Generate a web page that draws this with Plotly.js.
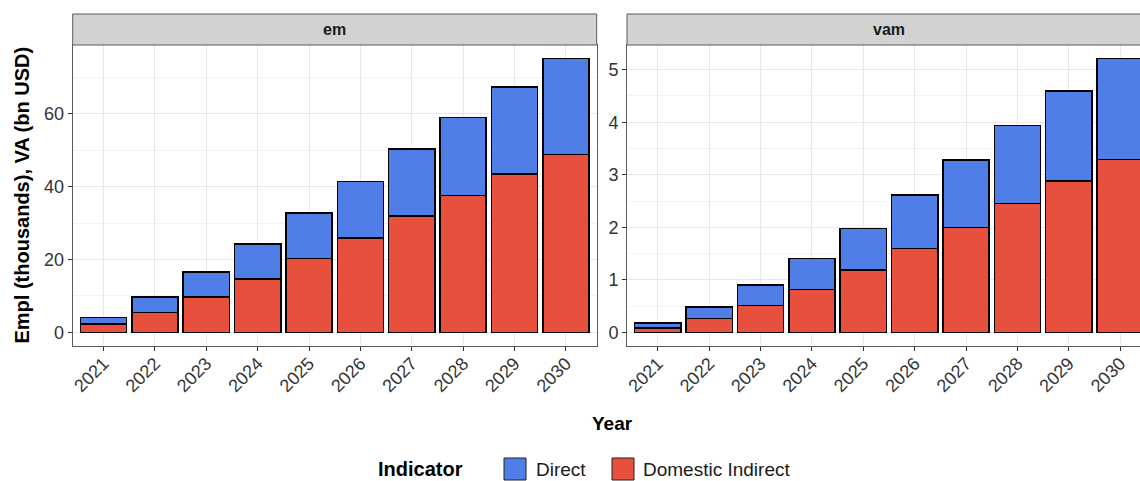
<!DOCTYPE html>
<html>
<head>
<meta charset="utf-8">
<script src="https://cdn.plot.ly/plotly-3.0.1.min.js"></script>
<style>
html, body { margin: 0; padding: 0; background: #ffffff; overflow: hidden; width: 1140px; height: 481px; }
#chart { width: 1160px; height: 481px; }
</style>
</head>
<body>
<div id="chart"></div>
<script>
// ---- data ----
const years = ['2021', '2022', '2023', '2024', '2025', '2026', '2027', '2028', '2029', '2030'];
const panelNames = ['em', 'vam'];
const seriesNames = ['Direct', 'Domestic Indirect'];

// em panel: Empl (thousands)
const emIndirect = [2.3, 5.5, 9.7, 14.7, 20.2, 25.9, 31.9, 37.6, 43.4, 48.8];
const emDirect   = [1.8, 4.2, 6.8, 9.5, 12.5, 15.5, 18.4, 21.4, 23.9, 26.3];

// vam panel: VA (bn USD)
const vamIndirect = [0.08, 0.26, 0.51, 0.82, 1.19, 1.60, 2.00, 2.45, 2.88, 3.29];
const vamDirect   = [0.10, 0.22, 0.39, 0.59, 0.79, 1.01, 1.28, 1.49, 1.71, 1.92];

const emTicks = [0, 20, 40, 60];
const emMinor = [10, 30, 50, 70];
const vamTicks = [0, 1, 2, 3, 4, 5];
const vamMinor = [0.5, 1.5, 2.5, 3.5, 4.5];

// ---- styling ----
const W = 1160, H = 481;
const colDirect = '#4f7fe6';
const colIndirect = '#e6503c';
const font = 'Liberation Sans, Arial, sans-serif';
const px = v => v / W;
const py = v => 1 - v / H;

const dom1 = [px(72.7), px(596.7)];
const dom2 = [px(627), px(1151)];
const yDom = [py(346), py(45)];

function barTrace(y, name, color, xa, ya) {
  return {
    type: 'bar', x: years, y: y, name: name, xaxis: xa, yaxis: ya,
    marker: { color: color, line: { color: '#000000', width: 1.5 } },
    showlegend: false, hoverinfo: 'x+y+name'
  };
}

const data = [
  barTrace(emIndirect, seriesNames[1], colIndirect, 'x', 'y'),
  barTrace(emDirect, seriesNames[0], colDirect, 'x', 'y'),
  barTrace(vamIndirect, seriesNames[1], colIndirect, 'x2', 'y2'),
  barTrace(vamDirect, seriesNames[0], colDirect, 'x2', 'y2')
];

function xAxis(domain, anchor) {
  return {
    domain: domain, anchor: anchor, type: 'category',
    range: [-0.6, 9.6], fixedrange: true,
    showgrid: true, gridcolor: '#e8e8e8', gridwidth: 1,
    showline: true, mirror: true, linecolor: '#5a5a5a', linewidth: 1,
    ticks: 'outside', ticklen: 4, tickcolor: '#333333', tickwidth: 1,
    tickangle: -45, ticklabelstandoff: -5,
    tickfont: { family: font, size: 18, color: '#333333' },
    zeroline: false
  };
}
function yAxis(anchor, range, ticks, minor) {
  return {
    domain: yDom, anchor: anchor, range: range, fixedrange: true,
    tickmode: 'array', tickvals: ticks, ticktext: ticks.map(String),
    showgrid: true, gridcolor: '#e8e8e8', gridwidth: 1,
    minor: { tickmode: 'array', tickvals: minor, showgrid: true, gridcolor: '#eeeeee', gridwidth: 0.7, ticks: '' },
    showline: true, mirror: true, linecolor: '#5a5a5a', linewidth: 1,
    ticks: 'outside', ticklen: 4, tickcolor: '#333333', tickwidth: 1,
    tickfont: { family: font, size: 18, color: '#333333' },
    zeroline: false
  };
}

const shapes = [];
const annotations = [];
// facet strips
[[dom1, panelNames[0]], [dom2, panelNames[1]]].forEach(([d, label]) => {
  shapes.push({ type: 'rect', xref: 'paper', yref: 'paper', x0: d[0], x1: d[1], y0: py(45), y1: py(14),
    fillcolor: '#d2d2d2', line: { color: '#5a5a5a', width: 1 }, layer: 'above' });
  annotations.push({ xref: 'paper', yref: 'paper', x: (d[0] + d[1]) / 2, y: py(29.5), text: '<b>' + label + '</b>',
    showarrow: false, xanchor: 'center', yanchor: 'middle', font: { family: font, size: 16, color: '#1a1a1a' } });
});
// axis titles
annotations.push({ xref: 'paper', yref: 'paper', x: px(21), y: py(195.5), text: '<b>Empl (thousands), VA (bn USD)</b>',
  textangle: -90, showarrow: false, xanchor: 'center', yanchor: 'middle', font: { family: font, size: 20, color: '#000000' } });
annotations.push({ xref: 'paper', yref: 'paper', x: px(612), y: py(423), text: '<b>Year</b>',
  showarrow: false, xanchor: 'center', yanchor: 'middle', font: { family: font, size: 19, color: '#000000' } });
// legend
annotations.push({ xref: 'paper', yref: 'paper', x: px(376), y: py(469), text: '<b>Indicator</b>',
  showarrow: false, xanchor: 'left', yanchor: 'middle', font: { family: font, size: 20, color: '#000000' } });
shapes.push({ type: 'rect', xref: 'paper', yref: 'paper', x0: px(504), x1: px(526), y0: py(480), y1: py(458),
  fillcolor: colDirect, line: { color: '#222222', width: 1 } });
annotations.push({ xref: 'paper', yref: 'paper', x: px(534), y: py(469), text: seriesNames[0],
  showarrow: false, xanchor: 'left', yanchor: 'middle', font: { family: font, size: 19, color: '#1a1a1a' } });
shapes.push({ type: 'rect', xref: 'paper', yref: 'paper', x0: px(612), x1: px(634), y0: py(480), y1: py(458),
  fillcolor: colIndirect, line: { color: '#222222', width: 1 } });
annotations.push({ xref: 'paper', yref: 'paper', x: px(641), y: py(469), text: seriesNames[1],
  showarrow: false, xanchor: 'left', yanchor: 'middle', font: { family: font, size: 19, color: '#1a1a1a' } });

const layout = {
  width: W, height: H,
  margin: { l: 0, r: 0, t: 0, b: 0, pad: 0 },
  paper_bgcolor: '#ffffff', plot_bgcolor: '#ffffff',
  barmode: 'stack', bargap: 0.1,
  showlegend: false,
  font: { family: font },
  xaxis: xAxis(dom1, 'y'),
  yaxis: yAxis('x', [-3.755, 78.86], emTicks, emMinor),
  xaxis2: xAxis(dom2, 'y2'),
  yaxis2: yAxis('x2', [-0.2605, 5.47], vamTicks, vamMinor),
  shapes: shapes,
  annotations: annotations
};

Plotly.newPlot('chart', data, layout, { displayModeBar: false, staticPlot: true });
</script>
</body>
</html>
